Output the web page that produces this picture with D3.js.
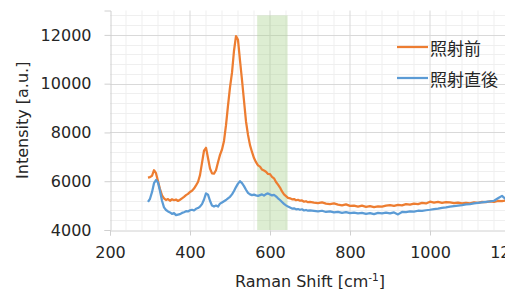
<!DOCTYPE html>
<html>
<head>
<meta charset="utf-8">
<script src="https://cdn.jsdelivr.net/npm/d3@7/dist/d3.min.js"></script>
<style>
  html, body { margin: 0; padding: 0; background: #fff; }
  svg { display: block; }
</style>
</head>
<body>
<div id="chart"></div>
<script>
// wavenumber grid: 5 cm-1 steps to 700, then 10 cm-1 steps
var shiftFine = d3.range(295, 701, 5);
var shiftCoarse = d3.range(710, 1191, 10);
var shift = shiftFine.concat(shiftCoarse);

// 照射前 (before irradiation)
var before = [
  6150, 6170, 6220, 6450, 6330, 6000, 5680, 5420, 5300, 5230,
  5270, 5200, 5260, 5220, 5250, 5190, 5240, 5300, 5360, 5430,
  5480, 5560, 5610, 5700, 5830, 5970, 6250, 6750, 7250, 7370,
  6950, 6520, 6320, 6310, 6450, 6780, 7080, 7300, 7650, 8300,
  9100, 9850, 10450, 11350, 11950, 11800, 10950, 10150, 9300, 8450,
  7900, 7480, 7200, 6950, 6780, 6650, 6600, 6480, 6440, 6390,
  6300, 6290, 6180, 6120, 5970, 5860, 5740, 5580, 5460, 5390,
  5320, 5300, 5260, 5270, 5220, 5240, 5200, 5210, 5160, 5180,
  5140, 5150,
  5120, 5100, 5130, 5080, 5060, 5090, 5040, 5010, 5050, 4990,
  5000, 4960, 5000, 4950, 4980, 4940, 4970, 4960, 5000, 5020,
  4990, 5030, 5010, 5060, 5040, 5080, 5060, 5110, 5090, 5160,
  5120, 5150, 5110, 5140, 5130, 5100, 5120, 5090, 5110, 5090,
  5130, 5110, 5150, 5140, 5170, 5150, 5190, 5180, 5210
];

// 照射直後 (right after irradiation)
var after = [
  5150, 5280, 5550, 5920, 6050, 5950, 5600, 5200, 4930, 4820,
  4760, 4720, 4660, 4690, 4610, 4630, 4650, 4700, 4730, 4770,
  4760, 4810, 4830, 4800, 4870, 4900, 4960, 5060, 5250, 5500,
  5450, 5200, 5000, 4960, 5000, 4960, 5080, 5130, 5180, 5230,
  5300, 5360, 5460, 5600, 5760, 5900, 6000, 5920, 5800, 5650,
  5520, 5460, 5430, 5450, 5420, 5400, 5430, 5460, 5410, 5470,
  5500, 5460, 5420, 5440, 5380, 5300, 5230, 5150, 5070, 5010,
  4960, 4920, 4880, 4890, 4850, 4860, 4830, 4850, 4800, 4820,
  4790, 4800,
  4780, 4760, 4790, 4740, 4760, 4720, 4740, 4700, 4730, 4690,
  4710, 4680, 4700, 4660, 4690, 4650, 4700, 4680, 4710, 4680,
  4720, 4640, 4740, 4730, 4760, 4750, 4790, 4780, 4810, 4830,
  4860, 4880, 4910, 4930, 4960, 4980, 5000, 5020, 5050, 5060,
  5090, 5110, 5130, 5150, 5170, 5200, 5300, 5400, 5250
];

var seriesNames = ['照射前', '照射直後'];
var seriesColors = ['#ED7D31', '#5B9BD5'];
var band = [568, 644];          // highlighted region
var bandTop = 12800;
var xTicks = [200, 400, 600, 800, 1000, 1200];
var yTicks = [4000, 6000, 8000, 10000, 12000];

var W = 505, H = 289;
var svg = d3.select('#chart').append('svg')
  .attr('width', W).attr('height', H);

var x = d3.scaleLinear().domain([200, 1200]).range([110, 510]);
var y = d3.scaleLinear().domain([4000, 13000]).range([230, 10.5]);

// minor grid
var gMinor = svg.append('g');
gMinor.selectAll('.vmin').data(d3.range(240, 1200, 40).filter(function(d){ return d % 200; }))
  .enter().append('line')
  .attr('x1', function(d){ return x(d); }).attr('x2', function(d){ return x(d); })
  .attr('y1', y(13000)).attr('y2', y(4000))
  .attr('stroke', '#efefef').attr('stroke-width', 1);
gMinor.selectAll('.hmin').data(d3.range(4400, 13001, 400).filter(function(d){ return d % 2000; }))
  .enter().append('line')
  .attr('y1', function(d){ return Math.round(y(d)) + 0.5; }).attr('y2', function(d){ return Math.round(y(d)) + 0.5; })
  .attr('x1', x(200)).attr('x2', x(1200))
  .attr('stroke', '#efefef').attr('stroke-width', 1);

// major grid
var gMajor = svg.append('g');
gMajor.selectAll('.vmaj').data(xTicks.slice(1))
  .enter().append('line')
  .attr('x1', function(d){ return x(d); }).attr('x2', function(d){ return x(d); })
  .attr('y1', y(13000)).attr('y2', y(4000))
  .attr('stroke', '#d9d9d9').attr('stroke-width', 1);
gMajor.selectAll('.hmaj').data(yTicks.slice(1))
  .enter().append('line')
  .attr('y1', function(d){ return Math.round(y(d)) + 0.5; }).attr('y2', function(d){ return Math.round(y(d)) + 0.5; })
  .attr('x1', x(200)).attr('x2', x(1200))
  .attr('stroke', '#d9d9d9').attr('stroke-width', 1);

// green band
svg.append('rect')
  .attr('x', x(band[0])).attr('width', x(band[1]) - x(band[0]))
  .attr('y', y(bandTop)).attr('height', y(4000) - y(bandTop))
  .attr('fill', 'rgb(169,209,142)').attr('fill-opacity', 0.4);

// axes
var fontLatin = '"DejaVu Sans", Verdana, sans-serif';
var xAxis = svg.append('g').attr('transform', 'translate(0,' + (Math.round(y(4000)) + 0.5) + ')')
  .call(d3.axisBottom(x).tickValues(xTicks).tickSize(5).tickPadding(11).tickFormat(d3.format('d')));
var yAxis = svg.append('g').attr('transform', 'translate(' + (Math.round(x(200)) + 0.5) + ',0)')
  .call(d3.axisLeft(y).tickValues(yTicks).tickSize(6).tickPadding(13).tickFormat(d3.format('d')));
[xAxis, yAxis].forEach(function(a){
  a.select('.domain').attr('stroke', '#d0d0d0');
  a.selectAll('.tick line').attr('stroke', '#d0d0d0');
  a.selectAll('text').attr('fill', '#262626')
    .style('font-family', fontLatin).style('font-size', '16px');
});

// lines
var line = d3.line()
  .x(function(d){ return x(d[0]); })
  .y(function(d){ return y(d[1]); });
[before, after].forEach(function(vals, i){
  svg.append('path')
    .datum(shift.map(function(s, k){ return [s, vals[k]]; }))
    .attr('d', line)
    .attr('fill', 'none')
    .attr('stroke', seriesColors[i])
    .attr('stroke-width', 2.25)
    .attr('stroke-linejoin', 'round');
});

// legend
var leg = svg.append('g');
seriesNames.forEach(function(n, i){
  var ly = 47 + i * 31;
  leg.append('line')
    .attr('x1', 397).attr('x2', 428).attr('y1', ly).attr('y2', ly)
    .attr('stroke', seriesColors[i]).attr('stroke-width', 2.25);
  leg.append('text')
    .attr('x', 430).attr('y', ly)
    .attr('dominant-baseline', 'central')
    .attr('fill', '#262626')
    .style('font-family', '"Noto Sans CJK JP", sans-serif')
    .style('font-size', '17px')
    .text(n);
});

// axis titles
svg.append('text')
  .attr('transform', 'translate(28,' + ((y(4000) + y(13000)) / 2) + ') rotate(-90)')
  .attr('text-anchor', 'middle')
  .attr('fill', '#262626')
  .style('font-family', fontLatin).style('font-size', '16px')
  .text('Intensity [a.u.]');

var xt = svg.append('text')
  .attr('x', (x(200) + x(1200)) / 2).attr('y', 287)
  .attr('text-anchor', 'middle')
  .attr('fill', '#262626')
  .style('font-family', fontLatin).style('font-size', '16px');
xt.append('tspan').text('Raman Shift [cm');
xt.append('tspan').attr('dy', -6).style('font-size', '10.5px').text('-1');
xt.append('tspan').attr('dy', 6).text(']');
</script>
</body>
</html>
